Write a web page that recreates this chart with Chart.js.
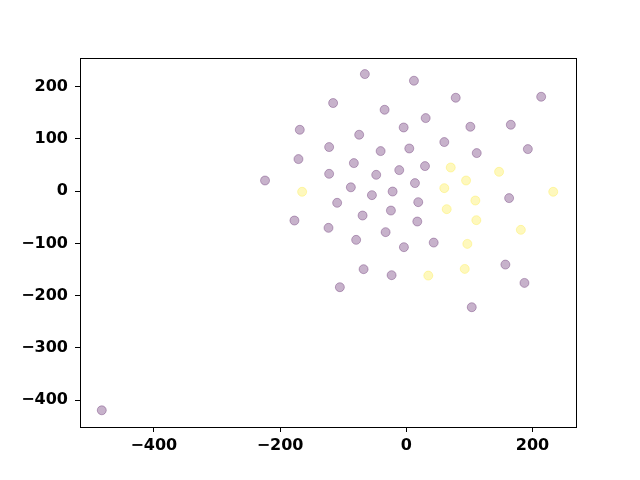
<!DOCTYPE html>
<html>
<head>
<meta charset="utf-8">
<script src="https://cdn.jsdelivr.net/npm/chart.js@4/dist/chart.umd.min.js"></script>
<style>
  body { margin: 0; background: #fff; }
  #wrap { width: 640px; height: 480px; }
</style>
</head>
<body>
<div id="wrap"><canvas id="grafico" width="640" height="480"></canvas></div>
<script>
// pontos roxos (classe 0)
const roxoX = [-65.6, -115.9, -34.3, -168.7, -4.1, -74.6, -122.2, -40.6, 4.8, -170.8,
  -83, -122.2, -47.6, -11.1, -223.8, -87.8, 12.2, 78.4, 213.8, 30.8,
  101.6, 165.7, 60.3, 111.7, 192.7, 29.7, 13.8, -54.4, -21.6, -109.5,
  -69.2, -24.3, -177.2, -123.2, -79.4, -32.7, -3.7, -67.6, -23.2, -105.2,
  163, 19, 17.5, 43.5, 157.1, 187.3, 103.8, -482.5];
const roxoY = [224, 168.6, 155.7, 117.4, 121.8, 107.9, 84.3, 76.6, 81.6, 61.3,
  53.6, 33.1, 31.2, 40.2, 20.3, 7.3, 211.3, 178.7, 180.6, 139.8,
  123.2, 127, 93.9, 72.8, 80.4, 47.9, 15.3, -7.7, -0.8, -22.4,
  -46.7, -37.2, -56.3, -70.3, -93.3, -78.5, -107.3, -149.4, -160.9, -183.9,
  -13.4, -21.1, -58.2, -98.5, -140.6, -175.7, -222.2, -419.5];

// pontos amarelos (classe 1)
const amareloX = [-165, 70.5, 147.1, 94.8, 60.3, 232.9, 109.5, 64.1, 111.1, 181.6, 96.8, 92.7, 34.9];
const amareloY = [-1.3, 45.2, 37, 20.3, 5.7, -1.3, -18, -34.5, -55.6, -74.1, -101, -148.9, -161.7];

const ticksX = [-400, -200, 0, 200];
const ticksY = [-400, -300, -200, -100, 0, 100, 200];

function pontos(xs, ys) {
  return xs.map((x, i) => ({ x: x, y: ys[i] }));
}

// moldura preta à volta da área do gráfico
const moldura = {
  id: 'moldura',
  afterDraw(chart) {
    const a = chart.chartArea;
    const c = chart.ctx;
    c.save();
    c.strokeStyle = '#000';
    c.lineWidth = 1;
    c.strokeRect(Math.round(a.left) + 0.5, Math.round(a.top) + 0.5,
      Math.round(a.right - a.left), Math.round(a.bottom - a.top));
    c.restore();
  }
};

const fonteTicks = { family: 'DejaVu Sans', size: 16, weight: 'bold' };

const ctx = document.getElementById('grafico').getContext('2d');
new Chart(ctx, {
  type: 'scatter',
  data: {
    datasets: [{
      data: pontos(roxoX, roxoY),
      backgroundColor: 'rgba(68, 1, 84, 0.3)',
      borderColor: 'rgba(68, 1, 84, 0.3)',
      borderWidth: 1,
      pointRadius: 4.5
    }, {
      data: pontos(amareloX, amareloY),
      backgroundColor: 'rgba(253, 231, 37, 0.3)',
      borderColor: 'rgba(253, 231, 37, 0.3)',
      borderWidth: 1,
      pointRadius: 4.5
    }]
  },
  options: {
    responsive: false,
    animation: false,
    layout: { padding: { top: 58, right: 64, left: 0, bottom: 0 } },
    plugins: {
      legend: { display: false },
      tooltip: { enabled: false }
    },
    scales: {
      x: {
        type: 'linear',
        min: -517,
        max: 269,
        afterBuildTicks: (s) => { s.ticks = ticksX.map(v => ({ value: v })); },
        afterFit: (s) => { s.height = 53; },
        grid: { drawOnChartArea: false, drawTicks: true, tickLength: 5, color: '#000' },
        border: { display: true, color: '#000' },
        ticks: { color: '#000', font: fonteTicks, padding: 4, maxRotation: 0,
          callback: (v) => String(v).replace('-', '\u2212') }
      },
      y: {
        type: 'linear',
        min: -451.5,
        max: 254.8,
        afterBuildTicks: (s) => { s.ticks = ticksY.map(v => ({ value: v })); },
        afterFit: (s) => { s.width = 80; },
        grid: { drawOnChartArea: false, drawTicks: true, tickLength: 5, color: '#000' },
        border: { display: true, color: '#000' },
        ticks: { color: '#000', font: fonteTicks, padding: 7,
          callback: (v) => String(v).replace('-', '\u2212') }
      }
    }
  },
  plugins: [moldura]
});
</script>
</body>
</html>
